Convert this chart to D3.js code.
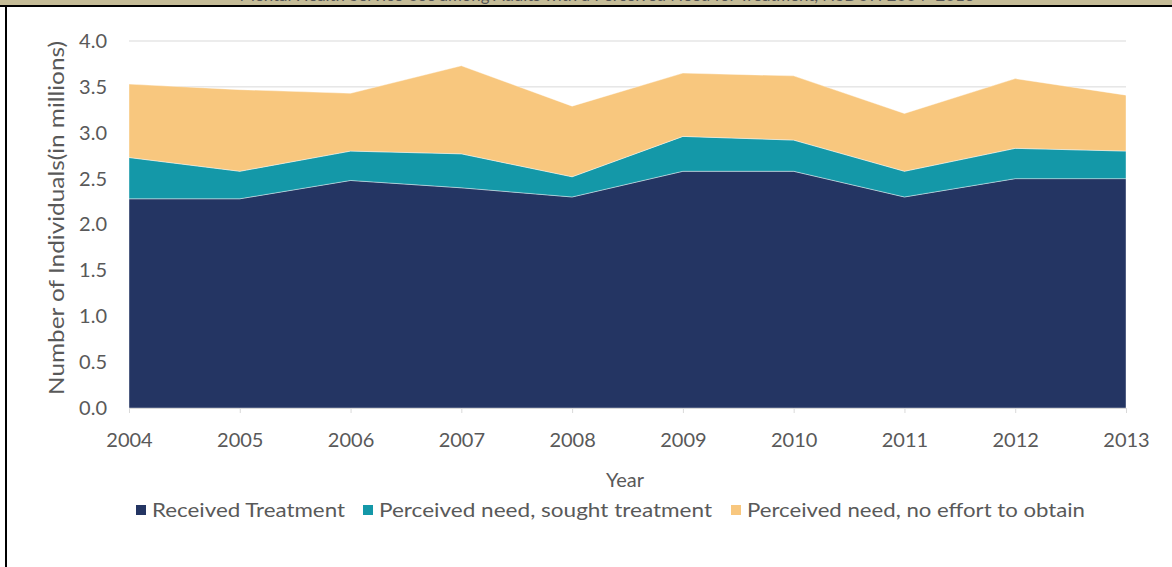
<!DOCTYPE html>
<html>
<head>
<meta charset="utf-8">
<script src="https://cdn.jsdelivr.net/npm/d3@7"></script>
<style>
  html, body { margin: 0; padding: 0; background: #ffffff; }
  svg { display: block; }
  text { font-family: Lato, "Open Sans", sans-serif; }
</style>
</head>
<body>
<svg id="chart" width="1172" height="567"></svg>
<script>
// Adults by treatment status, in millions
const years = [2004, 2005, 2006, 2007, 2008, 2009, 2010, 2011, 2012, 2013];
const receivedTreatment = [2.28, 2.28, 2.48, 2.40, 2.30, 2.58, 2.58, 2.30, 2.50, 2.50];
const soughtTreatment   = [0.45, 0.30, 0.32, 0.37, 0.22, 0.38, 0.34, 0.28, 0.33, 0.30];
const noEffort          = [0.80, 0.89, 0.63, 0.96, 0.77, 0.69, 0.70, 0.63, 0.76, 0.61];
const yTicks = [0, 0.5, 1.0, 1.5, 2.0, 2.5, 3.0, 3.5, 4.0];

const seriesNames = ["Received Treatment", "Perceived need, sought treatment", "Perceived need, no effort to obtain"];
const seriesKeys = ["received", "sought", "noEffort"];
const seriesColors = ["#243563", "#1498a8", "#f8c77e"];
const titleText = "Mental Health Service Use among Adults with a Perceived Need for Treatment, NSDUH 2004\u20132013";

const rows = years.map((y, i) => ({
  year: y,
  received: receivedTreatment[i],
  sought: soughtTreatment[i],
  noEffort: noEffort[i]
}));

const svg = d3.select("#chart");
const W = 1172, H = 567;
const plot = { left: 129, right: 1126, top: 41, bottom: 408 };
const axisFont = "Lato, 'Open Sans', sans-serif";
const textGray = "#595959";

const x = d3.scaleLinear().domain([years[0], years[years.length - 1]]).range([plot.left, plot.right]);
const y = d3.scaleLinear().domain([0, 4]).range([plot.bottom, plot.top]);

// Header strip; the title runs off the top edge
svg.append("rect").attr("x", 0).attr("y", 0).attr("width", W).attr("height", 5).attr("fill", "#c5bc97");
svg.append("clipPath").attr("id", "titleClip")
  .append("rect").attr("x", 0).attr("y", 0).attr("width", W).attr("height", 5);
svg.append("text")
  .attr("clip-path", "url(#titleClip)")
  .attr("x", 607).attr("y", 1)
  .attr("text-anchor", "middle")
  .attr("font-size", 17)
  .attr("fill", "#555")
  .attr("textLength", 735).attr("lengthAdjust", "spacingAndGlyphs")
  .text(titleText);
svg.append("rect").attr("x", 0).attr("y", 5).attr("width", W).attr("height", 2).attr("fill", "#000");
svg.append("rect").attr("x", 5).attr("y", 5).attr("width", 2).attr("height", H - 5).attr("fill", "#000");

// Gridlines
svg.append("g")
  .selectAll("line")
  .data(yTicks.filter(t => t > 0))
  .join("line")
  .attr("x1", plot.left).attr("x2", plot.right)
  .attr("y1", d => y(d)).attr("y2", d => y(d))
  .attr("stroke", "#d9d9d9").attr("stroke-width", 1);

// Stacked areas
const stack = d3.stack().keys(seriesKeys);
const layers = stack(rows);
const area = d3.area()
  .x(d => x(d.data.year))
  .y0(d => y(d[0]))
  .y1(d => y(d[1]));

svg.append("g")
  .selectAll("path")
  .data(layers)
  .join("path")
  .attr("d", area)
  .attr("fill", (d, i) => seriesColors[i])
  .attr("stroke", "rgba(255,255,255,0.5)")
  .attr("stroke-width", 0.8);

// X axis
const xAxis = d3.axisBottom(x)
  .tickValues(years)
  .tickFormat(d3.format("d"))
  .tickSize(5)
  .tickPadding(20);
const gx = svg.append("g").attr("transform", `translate(0,${plot.bottom})`).call(xAxis);
gx.select(".domain").attr("stroke", "#d9d9d9");
gx.selectAll(".tick line").attr("stroke", "#d9d9d9");
gx.selectAll(".tick text").attr("fill", textGray).attr("font-size", 20)
  .attr("font-family", axisFont);

// Y axis
const yAxis = d3.axisLeft(y)
  .tickValues(yTicks)
  .tickFormat(d3.format(".1f"))
  .tickSize(0)
  .tickPadding(22);
const gy = svg.append("g").attr("transform", `translate(${plot.left},0)`).call(yAxis);
gy.select(".domain").remove();
gy.selectAll(".tick text").attr("fill", textGray).attr("font-size", 20)
  .attr("font-family", axisFont);

// Axis titles
svg.append("text")
  .attr("transform", `translate(55,218) rotate(-90)`)
  .attr("text-anchor", "middle")
  .attr("dominant-baseline", "central")
  .attr("font-size", 21).attr("fill", textGray)
  .attr("textLength", 354).attr("lengthAdjust", "spacingAndGlyphs")
  .text("Number of Individuals(in millions)");

svg.append("text")
  .attr("x", 625).attr("y", 487)
  .attr("text-anchor", "middle")
  .attr("font-size", 20).attr("fill", textGray)
  .text("Year");

// Legend
const legendItems = [
  { sq: 136, tx: 152, w: 193 },
  { sq: 363, tx: 379, w: 333 },
  { sq: 731, tx: 747, w: 338 }
];
const lg = svg.append("g");
seriesNames.forEach((name, i) => {
  const it = legendItems[i];
  lg.append("rect").attr("x", it.sq).attr("y", 505).attr("width", 10).attr("height", 10)
    .attr("fill", seriesColors[i]);
  lg.append("text").attr("x", it.tx).attr("y", 517)
    .attr("font-size", 20).attr("fill", textGray)
    .attr("textLength", it.w).attr("lengthAdjust", "spacingAndGlyphs")
    .text(name);
});
</script>
</body>
</html>
